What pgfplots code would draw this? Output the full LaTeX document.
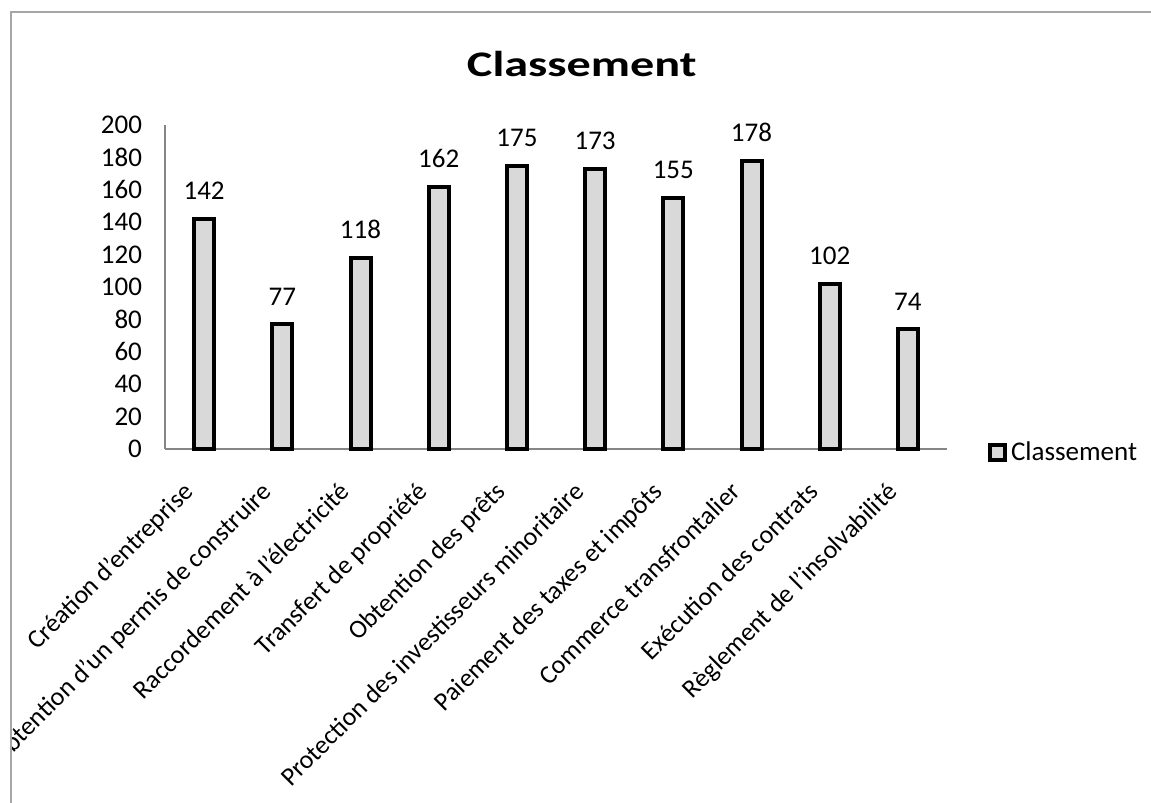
\documentclass[border=0pt]{standalone}
\usepackage{pgfplots}
\pgfplotsset{compat=1.18}
\usepackage{fontspec}
\setmainfont{Carlito}
\definecolor{barfill}{HTML}{D9D9D9}
\definecolor{axisgray}{HTML}{868686}
\definecolor{bordergray}{HTML}{A6A6A6}
\begin{document}
\begin{tikzpicture}
\begin{scope}
\clip (-77pt,-180pt) rectangle (500pt,218.5pt);
\begin{axis}[
  at={(0pt,0pt)}, anchor=south west,
  scale only axis,
  width=391pt, height=162pt,
  xmin=-0.5, xmax=9.5, ymin=0, ymax=200,
  axis x line*=bottom, axis y line*=left,
  axis line style={axisgray, line width=0.75pt, -},
  major tick length=0pt,
  ytick={0,20,...,200},
  xtick={0,...,9},
  xticklabels={Création d’entreprise, Obtention d’un permis de construire, Raccordement à l’électricité, Transfert de propriété, Obtention des prêts, Protection des investisseurs minoritaire, Paiement des taxes et impôts, Commerce transfrontalier, Exécution des contrats, Règlement de l’insolvabilité},
  xticklabel style={rotate=45, anchor=north east, inner sep=0pt, xshift=-19pt, yshift=-3pt, font=\fontsize{13pt}{15pt}\selectfont},
  yticklabel style={font=\fontsize{13.5pt}{15pt}\selectfont, xshift=-8pt},
  /pgf/number format/assume math mode=true,
  ybar, bar width=10pt,
  nodes near coords,
  nodes near coords style={anchor=base, yshift=9.5pt, font=\fontsize{13.5pt}{15pt}\selectfont, black},
  title={\scalebox{1.34}[1]{\fontsize{18pt}{20pt}\selectfont\bfseries Classement}},
  title style={at={(0.533,1.114)}, anchor=base, inner sep=0pt},
  legend style={at={(1.052,-0.012)}, anchor=west, draw=none, fill=none, inner sep=0pt, font=\fontsize{13.5pt}{15pt}\selectfont},
  legend image code/.code={\draw[line width=2pt, fill=barfill, draw=black] (0pt,-3.75pt) rectangle (7.5pt,3.75pt);},
  clip=false,
]
\addplot[draw=black, fill=barfill, line width=2pt] coordinates {
(0,142) (1,77) (2,118) (3,162) (4,175) (5,173) (6,155) (7,178) (8,102) (9,74)};
\addlegendentry{Classement}
\end{axis}
\end{scope}
\draw[bordergray, line width=0.75pt] (-77pt,-200pt) -- (-77pt,218.5pt) -- (520pt,218.5pt);
\pgfresetboundingbox
\useasboundingbox (-82.5pt,-177pt) rectangle (493pt,224.5pt);
\end{tikzpicture}
\end{document}
